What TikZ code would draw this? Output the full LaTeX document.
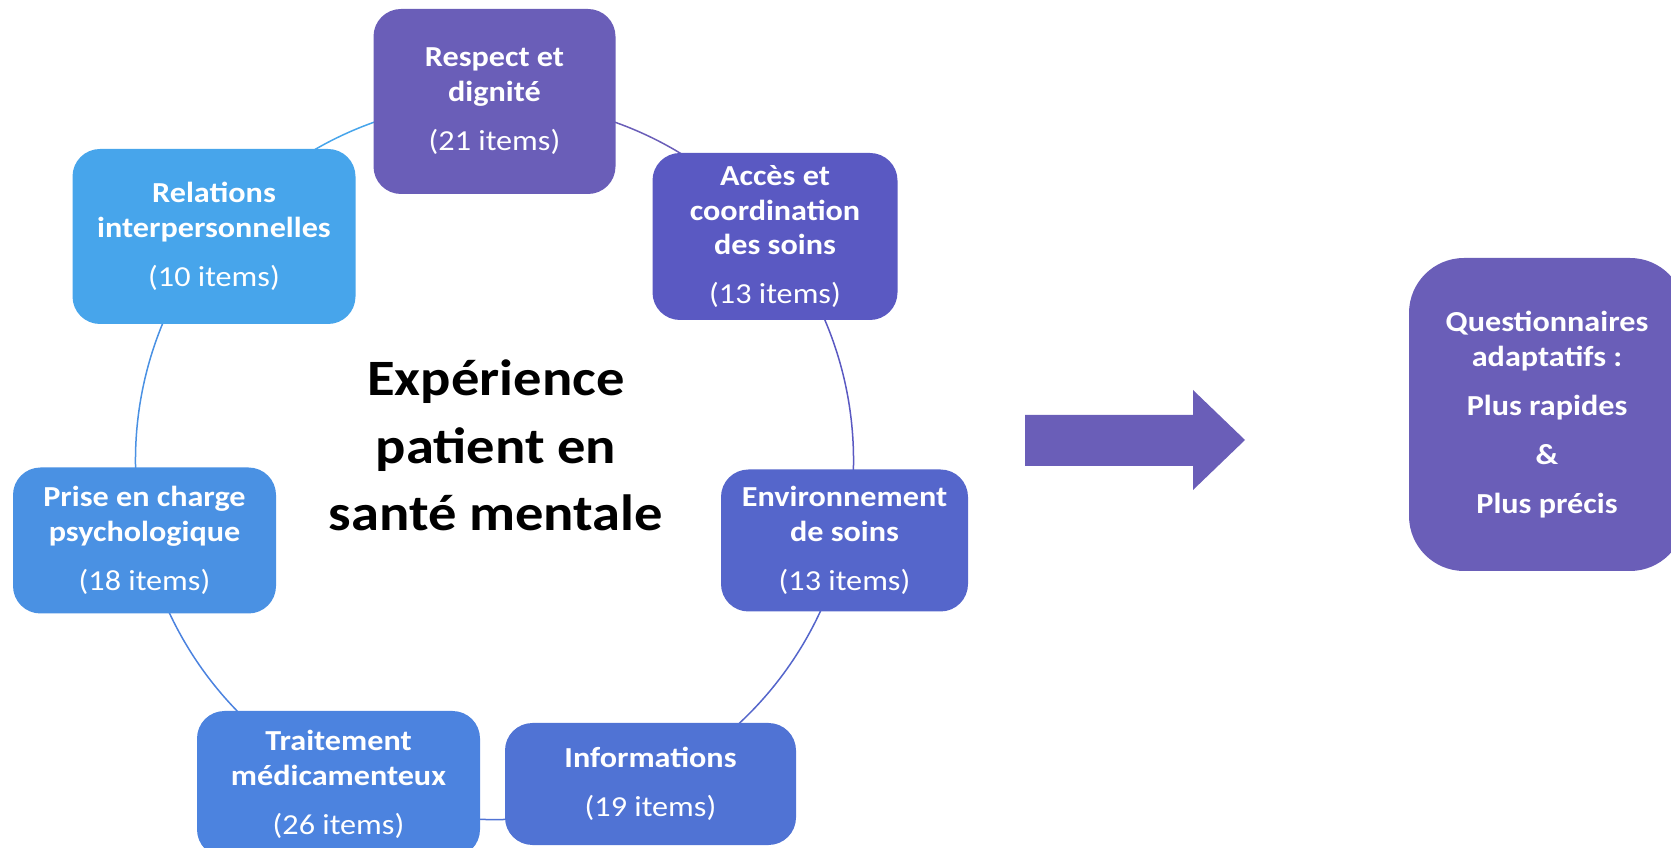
\documentclass[tikz,border=0pt]{standalone}
\usepackage{fontspec}
\setmainfont{Carlito}[FakeStretch=1.11]
\usetikzlibrary{backgrounds}

\definecolor{respectc}{HTML}{6A5EB8}
\definecolor{accesc}{HTML}{5A59C2}
\definecolor{envc}{HTML}{5566CB}
\definecolor{infoc}{HTML}{5073D4}
\definecolor{traitc}{HTML}{4C83DF}
\definecolor{prisec}{HTML}{4A91E3}
\definecolor{relc}{HTML}{47A5EB}

\tikzset{
	box/.style={fill=#1, rounded corners=0.55cm, text=white, align=center, inner sep=0pt,
		font=\fontsize{16.5}{19.9}\selectfont\bfseries},
	ring/.style={draw=#1, line width=0.03cm, bend left=25.7, looseness=0.9},
}

\begin{document}
\begin{tikzpicture}
	\clip (0,0) rectangle (33.42,16.94);
	\useasboundingbox (0,0) rectangle (33.42,16.94);

	%boxes of the cycle
	\node[box=respectc, minimum width=4.84cm, minimum height=3.70cm] (respect) at (9.89,14.91)
		{Respect et\\dignité\\[0.28cm]\mdseries(21 items)};
	\node[box=accesc, minimum width=4.90cm, minimum height=3.34cm] (acces) at (15.50,12.21)
		{Accès et\\coordination\\des soins\\[0.28cm]\mdseries(13 items)};
	\node[box=envc, minimum width=4.94cm, minimum height=2.84cm] (env) at (16.89,6.13)
		{Environnement\\de soins\\[0.28cm]\mdseries(13 items)};
	\node[box=infoc, minimum width=5.82cm, minimum height=2.44cm] (info) at (13.01,1.26)
		{Informations\\[0.28cm]\mdseries(19 items)};
	\node[box=traitc, minimum width=5.66cm, minimum height=2.92cm] (trait) at (6.77,1.26)
		{Traitement\\médicamenteux\\[0.28cm]\mdseries(26 items)};
	\node[box=prisec, minimum width=5.26cm, minimum height=2.92cm] (prise) at (2.89,6.13)
		{Prise en charge\\psychologique\\[0.28cm]\mdseries(18 items)};
	\node[box=relc, minimum width=5.66cm, minimum height=3.50cm] (rel) at (4.28,12.21)
		{Relations\\interpersonnelles\\[0.28cm]\mdseries(10 items)};

	%ring behind the boxes
	\begin{scope}[on background layer]
		\draw[ring=respectc] (respect.center) to (acces.center);
		\draw[ring=accesc] (acces.center) to (env.center);
		\draw[ring=envc] (env.center) to (info.center);
		\draw[ring=infoc] (info.center) to (trait.center);
		\draw[ring=traitc] (trait.center) to (prise.center);
		\draw[ring=prisec] (prise.center) to (rel.center);
		\draw[ring=relc] (rel.center) to (respect.center);
	\end{scope}

	%centre label
	\node[align=center, font=\fontsize{29}{38.4}\selectfont\bfseries] (titre) at (9.92,8.03)
		{Expérience\\patient en\\santé mentale};

	%block arrow
	\fill[respectc] (20.5,7.62) -- (23.86,7.62) -- (23.86,7.14) -- (24.9,8.14)
		-- (23.86,9.14) -- (23.86,8.64) -- (20.5,8.64) -- cycle;

	%result box
	\node[box=respectc, rounded corners=1.1cm, minimum width=5.52cm, minimum height=6.26cm] (quest) at (30.94,8.65)
		{Questionnaires\\adaptatifs :\\[0.28cm]Plus rapides\\[0.28cm]\&\\[0.28cm]Plus précis};
\end{tikzpicture}
\end{document}
